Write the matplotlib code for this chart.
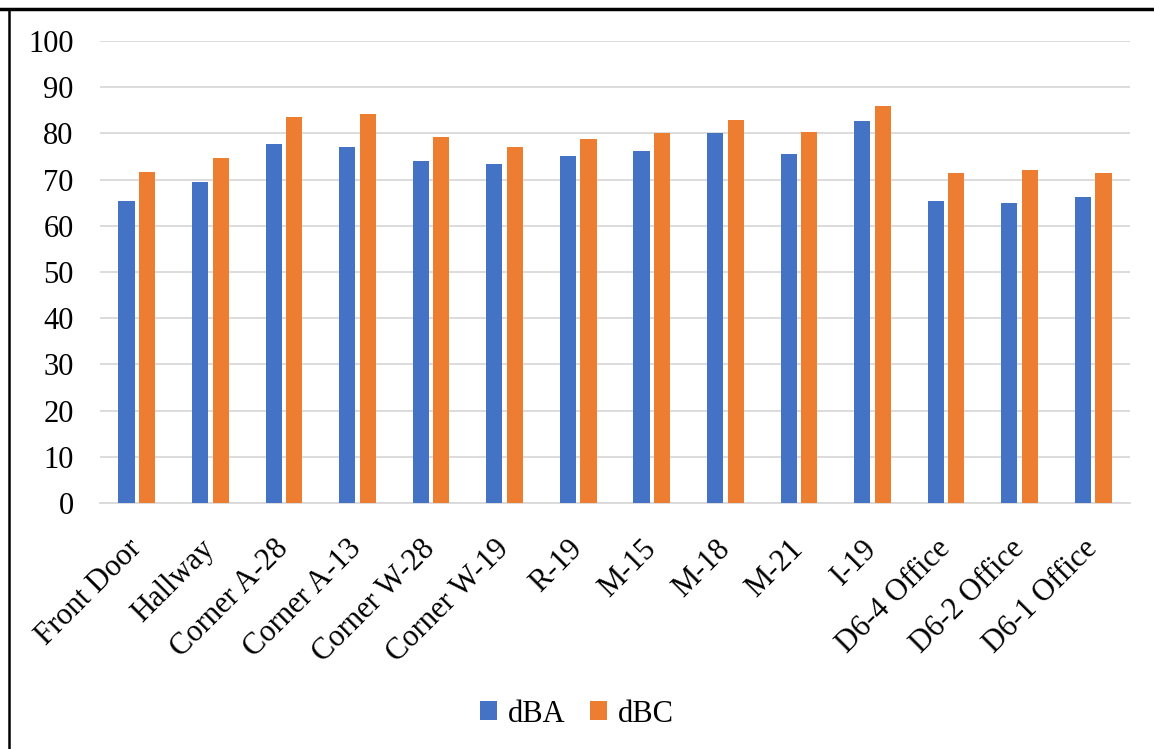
import numpy as np
import matplotlib.pyplot as plt
from matplotlib.lines import Line2D

locations = ['Front Door', 'Hallway', 'Corner A-28', 'Corner A-13', 'Corner W-28',
             'Corner W-19', 'R-19', 'M-15', 'M-18', 'M-21', 'I-19',
             'D6-4 Office', 'D6-2 Office', 'D6-1 Office']
dba = [65.3, 69.4, 77.6, 77.1, 74.0, 73.3, 75.1, 76.1, 80.0, 75.5, 82.7, 65.4, 64.9, 66.3]
dbc = [71.6, 74.7, 83.5, 84.1, 79.2, 77.0, 78.7, 80.1, 82.9, 80.3, 86.0, 71.4, 72.0, 71.4]

plt.rcParams['font.family'] = ['Liberation Serif', 'DejaVu Serif']

fig = plt.figure(figsize=(11.54, 7.49), dpi=100)
ax = fig.add_axes([100 / 1154, 1 - 503 / 749, 1030 / 1154, 462 / 749])

x = np.arange(len(locations))
w = 0.22
ax.bar(x - 0.14, dba, w, color='#4472c4', label='dBA', zorder=3)
ax.bar(x + 0.14, dbc, w, color='#ed7d31', label='dBC', zorder=3)

ax.set_xlim(-0.5, len(locations) - 0.5)
ax.set_ylim(0, 100)
ax.set_yticks(range(0, 101, 10))
ax.grid(axis='y', color='#d9d9d9', linewidth=1.3, zorder=0)
for s in ['top', 'right', 'left']:
    ax.spines[s].set_visible(False)
ax.spines['bottom'].set_color('#d9d9d9')
ax.spines['bottom'].set_linewidth(1.3)
ax.tick_params(axis='both', length=0, labelsize=22)
ax.tick_params(axis='y', pad=19)
ax.set_xticks(x)
ax.set_xticklabels(locations, rotation=45, ha='right', va='center',
                   rotation_mode='anchor', fontsize=22)
ax.tick_params(axis='x', pad=30)

fig.legend(loc='center', bbox_to_anchor=(0.5, 1 - 714 / 749), ncol=2, frameon=False,
           fontsize=22, handlelength=0.55, handleheight=0.55, handletextpad=0.35,
           columnspacing=0.8)

# frame lines from the cropped document
fig.add_artist(Line2D([0, 1], [1 - 8.5 / 749] * 2, color='black', linewidth=2.5))
fig.add_artist(Line2D([9 / 1154] * 2, [0, 1 - 8.5 / 749], color='black', linewidth=1.8))

fig.savefig('out.png', dpi=100)
